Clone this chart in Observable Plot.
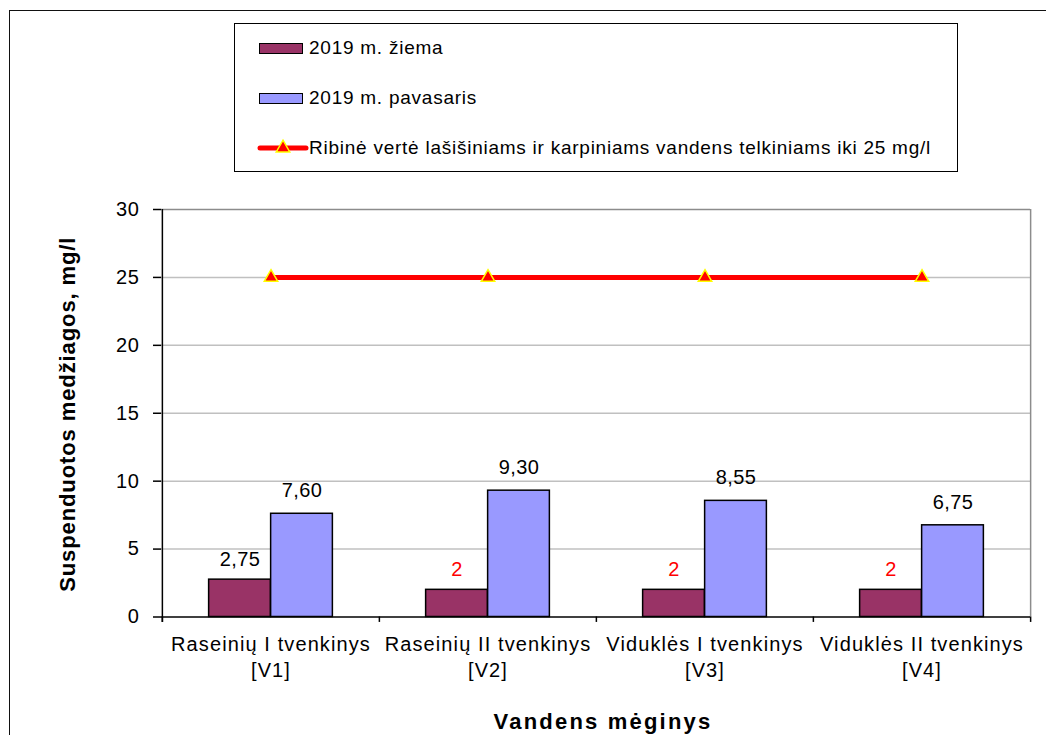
<!DOCTYPE html>
<html>
<head>
<meta charset="utf-8">
<script src="https://cdn.jsdelivr.net/npm/d3@7"></script>
<script src="https://cdn.jsdelivr.net/npm/@observablehq/plot@0.6"></script>
<style>
  html, body { margin: 0; padding: 0; background: #fff; overflow: hidden; }
  body { font-family: "Liberation Sans", Arial, sans-serif; color: #000; }
  #wrap { position: relative; width: 1046px; height: 735px; }
  #outer { position: absolute; left: 9px; top: 10px; width: 1100px; height: 800px; border: 1.5px solid #111; box-sizing: border-box; pointer-events: none; }
  #legendArea { position: relative; height: 190px; }
  #legend { position: absolute; left: 234px; top: 23px; width: 724px; height: 149px; border: 1.5px solid #000; box-sizing: border-box; background: #fff; }
  .lrow { position: absolute; left: 0; height: 24px; display: flex; align-items: center; font-size: 19px; letter-spacing: 0.75px; white-space: nowrap; }
  .sw { position: absolute; left: 24px; width: 44px; height: 11px; border: 1.5px solid #000; box-sizing: border-box; }
  .lt { position: absolute; left: 74px; }
  svg text { font-family: "Liberation Sans", Arial, sans-serif; }
</style>
</head>
<body>
<div id="wrap">
  <div id="legendArea"><div id="legend"></div></div>
  <div id="chart"></div>
  <div id="outer"></div>
</div>
<script>
// ---- data ----
const categories = ["Raseinių I tvenkinys\n[V1]", "Raseinių II tvenkinys\n[V2]", "Viduklės I tvenkinys\n[V3]", "Viduklės II tvenkinys\n[V4]"];
const winter = [2.75, 2, 2, 2];
const spring = [7.60, 9.30, 8.55, 6.75];
const limitValues = [25, 25, 25, 25];
const yTicks = [0, 5, 10, 15, 20, 25, 30];
const seriesNames = ["2019 m. žiema", "2019 m. pavasaris", "Ribinė vertė lašišiniams ir karpiniams vandens telkiniams iki 25 mg/l"];
const detectionLimit = 2;
const yTitle = "Suspenduotos medžiagos, mg/l";
const xTitle = "Vandens mėginys";

// ---- styles ----
const winterColor = "#993366";
const springColor = "#9999FF";
const limitColor = "#FF0000";
const markerStroke = "#FFFF00";

const fmt = v => Number.isInteger(v) ? String(v) : v.toFixed(2).replace(".", ",");
const rows = categories.map((c, i) => ({
  cat: c, winter: winter[i], spring: spring[i], limit: limitValues[i],
  wl: fmt(winter[i]), sl: fmt(spring[i]),
  wc: winter[i] <= detectionLimit ? "#FF0000" : "#000000"
}));

// ---- legend (HTML) ----
const legend = document.getElementById("legend");
const rowTops = [12, 62, 112];
seriesNames.forEach((name, i) => {
  const r = document.createElement("div");
  r.className = "lrow";
  r.style.top = rowTops[i] + "px";
  r.style.width = "720px";
  if (i < 2) {
    const sw = document.createElement("div");
    sw.className = "sw";
    sw.style.background = i === 0 ? winterColor : springColor;
    sw.style.top = "6.5px";
    r.appendChild(sw);
  } else {
    const svgNS = "http://www.w3.org/2000/svg";
    const s = document.createElementNS(svgNS, "svg");
    s.setAttribute("width", "52"); s.setAttribute("height", "24");
    s.style.position = "absolute"; s.style.left = "22px"; s.style.top = "0px";
    const ln = document.createElementNS(svgNS, "line");
    ln.setAttribute("x1", "3"); ln.setAttribute("x2", "49"); ln.setAttribute("y1", "12"); ln.setAttribute("y2", "12");
    ln.setAttribute("stroke", limitColor); ln.setAttribute("stroke-width", "5"); ln.setAttribute("stroke-linecap", "round");
    s.appendChild(ln);
    const tri = document.createElementNS(svgNS, "path");
    tri.setAttribute("d", d3.symbol(d3.symbolTriangle, 5 * 5 * Math.PI)());
    tri.setAttribute("transform", "translate(26,12)");
    tri.setAttribute("fill", limitColor); tri.setAttribute("stroke", markerStroke); tri.setAttribute("stroke-width", "1.5");
    s.appendChild(tri);
    r.appendChild(s);
  }
  const t = document.createElement("span");
  t.className = "lt";
  t.textContent = name;
  r.appendChild(t);
  legend.appendChild(r);
});

// ---- chart ----
const svgTop = 190;
const plotLeft = 161, plotRight = 1030;
const bw = (plotRight - plotLeft) / categories.length;
const barW = 62;

const chart = Plot.plot({
  width: 1046,
  height: 545,
  marginLeft: plotLeft,
  marginRight: 1046 - plotRight,
  marginTop: 209 - svgTop,
  marginBottom: 545 - (616.5 - svgTop),
  x: { domain: categories, padding: 0, axis: null },
  y: { domain: [0, 30], axis: null },
  style: { fontFamily: "Liberation Sans, Arial, sans-serif", fontSize: "20px", color: "#000", background: "transparent", overflow: "visible" },
  marks: [
    Plot.ruleY(yTicks.filter(d => d > 0 && d < 30), { stroke: "#c0c0c0", strokeWidth: 1.5 }),
    Plot.ruleY([30], { stroke: "#8c8c8c", strokeWidth: 1.5 }),
    Plot.ruleX([categories[categories.length - 1]], { dx: bw / 2, y1: 0, y2: 30, stroke: "#8c8c8c", strokeWidth: 1.5 }),
    Plot.barY(rows, { x: "cat", y: "winter", fill: winterColor, stroke: "#000", strokeWidth: 1.5, insetLeft: bw / 2 - barW, insetRight: bw / 2 }),
    Plot.barY(rows, { x: "cat", y: "spring", fill: springColor, stroke: "#000", strokeWidth: 1.5, insetLeft: bw / 2, insetRight: bw / 2 - barW }),
    Plot.lineY(rows, { x: "cat", y: "limit", stroke: limitColor, strokeWidth: 5 }),
    Plot.dot(rows, { x: "cat", y: "limit", symbol: "triangle", r: 5, fill: limitColor, stroke: markerStroke, strokeWidth: 1.5 }),
    // axes
    Plot.ruleY([0], { stroke: "#000", strokeWidth: 1.5 }),
    Plot.ruleX([categories[0]], { dx: -bw / 2, y1: -0.4, y2: 30, stroke: "#000", strokeWidth: 1.5 }),
    Plot.ruleX(categories, { dx: -bw / 2, y1: 0, y2: -0.4, stroke: "#000", strokeWidth: 1.5 }),
    Plot.ruleX([categories[categories.length - 1]], { dx: bw / 2, y1: 0, y2: -0.4, stroke: "#000", strokeWidth: 1.5 }),
    Plot.axisY({ ticks: yTicks, tickSize: 8, tickPadding: 14, tickFormat: d => String(d), fontSize: 20, label: null, stroke: "#000", strokeWidth: 1.5 }),
    // value labels
    Plot.text(rows, { x: "cat", y: "winter", text: "wl", fill: "wc", dx: -barW / 2, dy: -20, fontSize: 20 }),
    Plot.text(rows, { x: "cat", y: "spring", text: "sl", fill: "#000", dx: barW / 2, dy: -23, fontSize: 20 }),
    // category labels
    Plot.text(rows, { x: "cat", text: "cat", frameAnchor: "bottom", lineAnchor: "top", dy: 16, lineHeight: 1.3, fontSize: 20, fill: "#000" }),
    // titles
    Plot.text([yTitle], { frameAnchor: "left", textAnchor: "middle", lineAnchor: "middle", rotate: -90, dx: -94, dy: 1, fontSize: 22, fontWeight: "bold", fill: "#000" }),
    Plot.text([xTitle], { frameAnchor: "bottom", textAnchor: "middle", lineAnchor: "middle", dy: 105, dx: 7, fontSize: 22, fontWeight: "bold", fill: "#000" })
  ]
});
document.getElementById("chart").appendChild(chart);

// letter spacing for the text marks, in the order they were declared
const spacing = ["0.4px", "0.4px", "1.1px", "0.9px", "2.2px"];
const textGroups = chart.querySelectorAll('g[aria-label="text"]');
textGroups.forEach((g, i) => {
  if (spacing[i]) g.style.letterSpacing = spacing[i];
});
chart.querySelectorAll('g[aria-label="y-axis tick label"]').forEach(g => g.style.letterSpacing = "0.6px");
</script>
</body>
</html>
